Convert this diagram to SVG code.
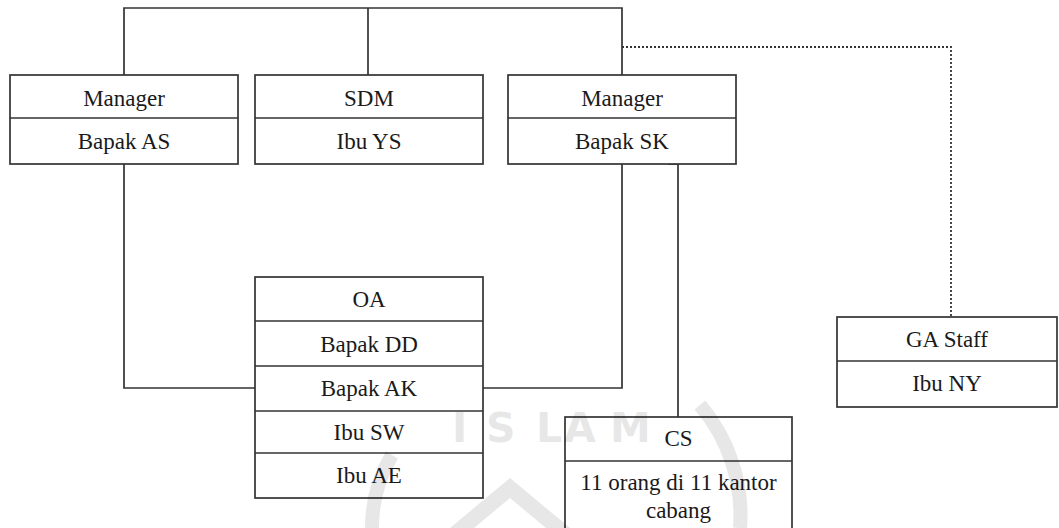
<svg xmlns="http://www.w3.org/2000/svg" width="1059" height="528" viewBox="0 0 1059 528">
  <style>
    .box { fill: #ffffff; stroke: #333333; stroke-width: 1.7; }
    .div { stroke: #333333; stroke-width: 1.7; }
    .lbl { font-family: 'Liberation Serif', 'Times New Roman', Times, 'DejaVu Serif', serif; font-size: 23px; fill: #1a1a1a; text-anchor: middle; }
    .line { fill: none; stroke: #333333; stroke-width: 1.7; }
    .dot { fill: none; stroke: #333333; stroke-width: 1.8; stroke-dasharray: 2 2; }
    .wm { fill: none; stroke: #000000; stroke-width: 14; }
    .wmf { fill: #000000; }
    .wmt { font-family: 'DejaVu Sans', sans-serif; font-weight: bold; font-size: 41px; fill: #000000; }
  </style>
  <rect width="1059" height="528" fill="#ffffff"/>

  <!-- connectors -->
  <g id="connectors">
    <path class="line" d="M124,164 V8 H622 V75"/>
    <path class="line" d="M368,8 V75"/>
    <path class="line" d="M124,164 V388 H255"/>
    <path class="line" d="M483,388 H622 V164"/>
    <path class="line" d="M668,164 H678 V417"/>
    <path class="dot" d="M622,47 H951 V317"/>
  </g>

  <g id="manager-as">
    <rect class="box" x="10" y="75" width="228" height="89"/>
    <line class="div" x1="10" y1="118" x2="238" y2="118"/>
    <text class="lbl" x="124" y="106">Manager</text>
    <text class="lbl" x="124" y="149">Bapak AS</text>
  </g>

  <g id="sdm">
    <rect class="box" x="255" y="75" width="228" height="89"/>
    <line class="div" x1="255" y1="118" x2="483" y2="118"/>
    <text class="lbl" x="369" y="106">SDM</text>
    <text class="lbl" x="369" y="149">Ibu YS</text>
  </g>

  <g id="manager-sk">
    <rect class="box" x="508" y="75" width="228" height="89"/>
    <line class="div" x1="508" y1="118" x2="736" y2="118"/>
    <text class="lbl" x="622" y="106">Manager</text>
    <text class="lbl" x="622" y="149">Bapak SK</text>
  </g>

  <g id="oa">
    <rect class="box" x="255" y="277" width="228" height="221"/>
    <line class="div" x1="255" y1="321" x2="483" y2="321"/>
    <line class="div" x1="255" y1="366" x2="483" y2="366"/>
    <line class="div" x1="255" y1="411" x2="483" y2="411"/>
    <line class="div" x1="255" y1="453" x2="483" y2="453"/>
    <text class="lbl" x="369" y="307">OA</text>
    <text class="lbl" x="369" y="352">Bapak DD</text>
    <text class="lbl" x="369" y="396">Bapak AK</text>
    <text class="lbl" x="369" y="440">Ibu SW</text>
    <text class="lbl" x="369" y="483">Ibu AE</text>
  </g>

  <g id="cs">
    <rect class="box" x="565" y="417" width="227" height="130"/>
    <line class="div" x1="565" y1="461" x2="792" y2="461"/>
    <text class="lbl" x="678.5" y="446">CS</text>
    <text class="lbl" x="678.5" y="490">11 orang di 11 kantor</text>
    <text class="lbl" x="678.5" y="518">cabang</text>
  </g>

  <g id="ga-staff">
    <rect class="box" x="837" y="317" width="220" height="90"/>
    <line class="div" x1="837" y1="361" x2="1057" y2="361"/>
    <text class="lbl" x="947" y="347">GA Staff</text>
    <text class="lbl" x="947" y="391">Ibu NY</text>
  </g>

  <!-- faint seal printed over the lower middle -->
  <g id="seal" opacity="0.09">
    <text class="wmt" x="452 486 536 564 610" y="442">ISLAM</text>
    <path class="wm" d="M700,405 A170,170 0 0 1 740,528"/>
    <path class="wm" d="M392,455 A140,140 0 0 0 372,528"/>
    <path class="wmf" d="M510,478 L570,528 H546 L510,498 L474,528 H450 Z"/>
  </g>
</svg>
